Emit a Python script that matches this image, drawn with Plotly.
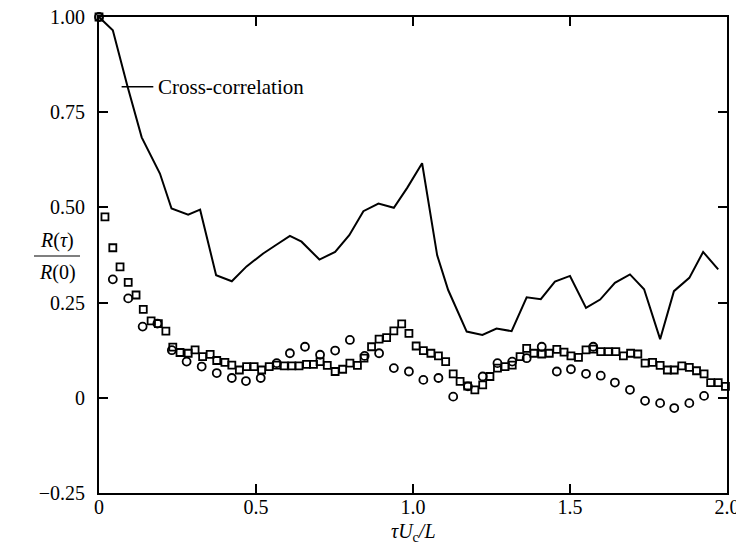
import plotly.graph_objects as go

# Cross-correlation curve
cc_x = [0.0, 0.044, 0.09, 0.136, 0.194, 0.231, 0.284, 0.322, 0.373, 0.423, 0.47, 0.523, 0.565, 0.608,
        0.645, 0.702, 0.752, 0.797, 0.842, 0.890, 0.939, 0.982, 1.029, 1.077, 1.112, 1.171, 1.221,
        1.266, 1.314, 1.362, 1.407, 1.452, 1.500, 1.551, 1.596, 1.643, 1.691, 1.736, 1.787, 1.831,
        1.880, 1.924, 1.972]
cc_y = [1.0, 0.965, 0.82, 0.684, 0.589, 0.497, 0.481, 0.494, 0.322, 0.306, 0.345, 0.379, 0.402, 0.425,
        0.410, 0.363, 0.383, 0.427, 0.490, 0.510, 0.499, 0.552, 0.616, 0.374, 0.283, 0.174, 0.165,
        0.182, 0.175, 0.264, 0.259, 0.305, 0.320, 0.236, 0.258, 0.302, 0.324, 0.285, 0.154, 0.280,
        0.315, 0.383, 0.337]

# Square symbols
sq_x = [0.0, 0.019, 0.044, 0.067, 0.093, 0.118, 0.141, 0.166, 0.189, 0.213, 0.235, 0.258, 0.284,
        0.306, 0.330, 0.354, 0.375, 0.401, 0.423, 0.447, 0.470, 0.494, 0.518, 0.542, 0.566, 0.590,
        0.614, 0.637, 0.661, 0.683, 0.704, 0.727, 0.752, 0.776, 0.799, 0.823, 0.844, 0.868, 0.892,
        0.916, 0.939, 0.964, 0.987, 1.010, 1.033, 1.057, 1.081, 1.104, 1.128, 1.150, 1.174, 1.197,
        1.222, 1.245, 1.269, 1.293, 1.316, 1.341, 1.362, 1.385, 1.410, 1.434, 1.458, 1.481, 1.503,
        1.527, 1.551, 1.574, 1.598, 1.622, 1.646, 1.670, 1.693, 1.716, 1.739, 1.763, 1.787, 1.810,
        1.832, 1.856, 1.880, 1.903, 1.927, 1.948, 1.972, 1.995]
sq_y = [1.0, 0.475, 0.394, 0.344, 0.303, 0.270, 0.232, 0.202, 0.195, 0.175, 0.133, 0.119, 0.117,
        0.126, 0.108, 0.114, 0.098, 0.093, 0.086, 0.073, 0.082, 0.082, 0.073, 0.082, 0.086, 0.084,
        0.084, 0.084, 0.088, 0.088, 0.095, 0.085, 0.069, 0.075, 0.091, 0.085, 0.104, 0.134, 0.154,
        0.158, 0.176, 0.194, 0.169, 0.136, 0.124, 0.117, 0.110, 0.095, 0.063, 0.043, 0.031, 0.021,
        0.034, 0.056, 0.078, 0.082, 0.086, 0.108, 0.130, 0.117, 0.115, 0.117, 0.127, 0.120, 0.110,
        0.106, 0.126, 0.128, 0.121, 0.121, 0.121, 0.110, 0.117, 0.115, 0.091, 0.093, 0.085, 0.073,
        0.073, 0.084, 0.080, 0.071, 0.063, 0.040, 0.040, 0.030]

# Circle symbols
ci_x = [0.0, 0.044, 0.093, 0.139, 0.186, 0.232, 0.279, 0.327, 0.375, 0.423, 0.468, 0.515, 0.566,
        0.608, 0.656, 0.704, 0.752, 0.799, 0.846, 0.892, 0.939, 0.987, 1.033, 1.081, 1.128, 1.175,
        1.222, 1.269, 1.316, 1.362, 1.410, 1.458, 1.503, 1.551, 1.574, 1.598, 1.643, 1.691, 1.739,
        1.787, 1.832, 1.880, 1.927]
ci_y = [1.0, 0.311, 0.261, 0.187, 0.195, 0.125, 0.095, 0.082, 0.065, 0.052, 0.044, 0.052, 0.091,
        0.117, 0.134, 0.113, 0.124, 0.152, 0.110, 0.117, 0.078, 0.069, 0.047, 0.052, 0.003, 0.030,
        0.056, 0.091, 0.095, 0.104, 0.134, 0.069, 0.075, 0.063, 0.134, 0.058, 0.040, 0.021, -0.008,
        -0.014, -0.027, -0.014, 0.005]

x_ticks = [0, 0.5, 1.0, 1.5, 2.0]
x_ticktext = ["0", "0.5", "1.0", "1.5", "2.0"]
y_ticks = [-0.25, 0, 0.25, 0.5, 0.75, 1.0]
y_ticktext = ["\u22120.25", "0", "0.25", "0.50", "0.75", "1.00"]

FONT = "Liberation Serif"
OFF = 8                      # page body margin
W, H = 736, 542
L, R, T, B = 91, 17, 9, 57
pw, ph = W - L - R, H - T - B


def px(page_x):
    return (page_x - OFF - L) / pw


def py(page_y):
    return 1 - (page_y - OFF - T) / ph


fig = go.Figure()
fig.add_trace(go.Scatter(x=cc_x, y=cc_y, mode="lines",
                         line=dict(color="black", width=2), cliponaxis=False, showlegend=False))
fig.add_trace(go.Scatter(x=ci_x, y=ci_y, mode="markers", cliponaxis=False, showlegend=False,
                         marker=dict(symbol="circle-open", size=8, color="black",
                                     line=dict(width=1.8, color="black"))))
fig.add_trace(go.Scatter(x=sq_x, y=sq_y, mode="markers", cliponaxis=False, showlegend=False,
                         marker=dict(symbol="square-open", size=7, color="black",
                                     line=dict(width=1.8, color="black"))))

axis_common = dict(showgrid=False, zeroline=False, showline=True, linecolor="black", linewidth=2,
                   mirror="ticks", ticks="inside", ticklen=9, tickwidth=1.5, tickcolor="black",
                   automargin=False, ticklabeloverflow="allow",
                   tickfont=dict(family=FONT, size=20, color="black"))

fig.update_xaxes(range=[0, 2.0], tickvals=x_ticks, ticktext=x_ticktext,
                 ticklabelstandoff=-5, **axis_common)
fig.update_yaxes(range=[-0.25, 1.0], tickvals=y_ticks, ticktext=y_ticktext,
                 ticklabelstandoff=8, **axis_common)

# leader line + label
fig.add_shape(type="line", x0=0.072, x1=0.173, y0=0.817, y1=0.817, xref="x", yref="y",
              line=dict(color="black", width=1.5))
fig.add_annotation(x=0.180, y=0.817, xref="x", yref="y", text="Cross-correlation",
                   showarrow=False, xanchor="left", yanchor="middle",
                   font=dict(family=FONT, size=21, color="black"))

# y-axis title as fraction
fig.add_annotation(x=px(57), y=py(240), xref="paper", yref="paper", text="<i>R</i>(<i>τ</i>)",
                   showarrow=False, xanchor="center", yanchor="middle",
                   font=dict(family=FONT, size=20, color="black"))
fig.add_annotation(x=px(57), y=py(272), xref="paper", yref="paper", text="<i>R</i>(0)",
                   showarrow=False, xanchor="center", yanchor="middle",
                   font=dict(family=FONT, size=20, color="black"))
fig.add_shape(type="line", xref="paper", yref="paper",
              x0=px(34), x1=px(80), y0=py(256), y1=py(256),
              line=dict(color="black", width=1.2))

# x-axis title
fig.add_annotation(x=0.5, y=py(532), xref="paper", yref="paper",
                   text="<i>τU</i><sub>c</sub><i>/L</i>",
                   showarrow=False, xanchor="center", yanchor="middle",
                   font=dict(family=FONT, size=20, color="black"))

fig.update_layout(width=W, height=H, margin=dict(l=L, r=R, t=T, b=B, autoexpand=False),
                  plot_bgcolor="white", paper_bgcolor="white",
                  font=dict(family=FONT, color="black"))

fig.write_html("out.html")
